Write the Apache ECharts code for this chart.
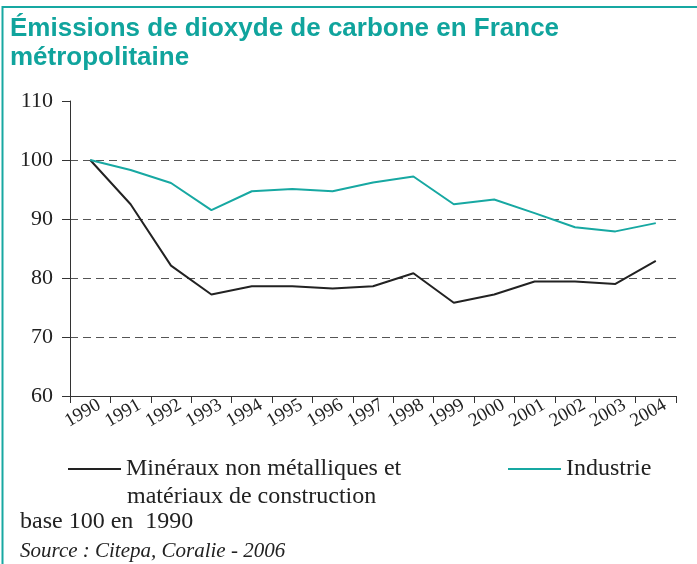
<!DOCTYPE html>
<html><head><meta charset="utf-8">
<script src="https://cdn.jsdelivr.net/npm/echarts@6/dist/echarts.min.js"></script>
<style>html,body{margin:0;padding:0;background:#fff}#c{width:697px;height:564px}</style>
</head><body><div id="c"></div>
<script>
const years = ['1990','1991','1992','1993','1994','1995','1996','1997','1998','1999','2000','2001','2002','2003','2004'];
const mineraux = [100, 92.5, 82.1, 77.2, 78.6, 78.6, 78.2, 78.6, 80.8, 75.8, 77.2, 79.4, 79.4, 79.0, 82.9];
const industrie = [100, 98.3, 96.1, 91.5, 94.7, 95.1, 94.7, 96.2, 97.2, 92.5, 93.3, 91.0, 88.6, 87.9, 89.3];
const yTicks = [60, 70, 80, 90, 100, 110];
const nameMinL1 = 'Minéraux non métalliques et';
const nameMinL2 = 'matériaux de construction';
const nameMin = nameMinL1 + ' ' + nameMinL2;
const nameInd = 'Industrie';
const teal = '#17A8A2';
const serif = 'Liberation Serif';
const chart = echarts.init(document.getElementById('c'));
chart.setOption({
  animation: false,
  title: {
    text: 'Émissions de dioxyde de carbone en France\nmétropolitaine',
    left: 5, top: 9,
    textStyle: { color: '#10A49D', fontFamily: 'Liberation Sans, Arial', fontWeight: 'bold', fontSize: 26, lineHeight: 29 }
  },
  grid: { left: 70, right: 21, top: 101, bottom: 168 },
  legend: [
    { data: [nameMin], left: 63, top: 452, icon: 'rect', itemWidth: 53, itemHeight: 2,
      formatter: () => nameMinL1,
      textStyle: { fontFamily: serif, fontSize: 24, color: '#222' } },
    { data: [nameInd], left: 503, top: 452, icon: 'rect', itemWidth: 53, itemHeight: 2,
      textStyle: { fontFamily: serif, fontSize: 24, color: '#222' } }
  ],
  xAxis: {
    type: 'category', data: years, boundaryGap: true,
    axisLine: { lineStyle: { color: '#333', width: 1 } },
    axisTick: { show: true, length: 7, lineStyle: { color: '#333' } },
    axisLabel: { rotate: 30, align: 'center', padding: [0, 17, 0, 0], fontFamily: serif, fontSize: 19, color: '#222', margin: 13, interval: 0 }
  },
  yAxis: {
    type: 'value', min: yTicks[0], max: yTicks[yTicks.length - 1], interval: 10,
    axisLine: { show: true, lineStyle: { color: '#333', width: 1 } },
    axisTick: { show: true, length: 8, lineStyle: { color: '#333' } },
    axisLabel: { fontFamily: serif, fontSize: 22, color: '#222', margin: 17 },
    splitLine: { show: true, showMaxLine: false, showMinLine: false, lineStyle: { color: '#555', type: [8, 5], width: 1 } }
  },
  series: [
    { name: nameMin, type: 'line', data: mineraux, symbol: 'none', lineStyle: { color: '#222', width: 2 }, itemStyle: { color: '#222' } },
    { name: nameInd, type: 'line', data: industrie, symbol: 'none', lineStyle: { color: teal, width: 2 }, itemStyle: { color: teal } }
  ],
  graphic: [
    { type: 'line', shape: { x1: 2, y1: 7, x2: 697, y2: 7 }, style: { stroke: teal, lineWidth: 2 } },
    { type: 'line', shape: { x1: 2.5, y1: 6, x2: 2.5, y2: 564 }, style: { stroke: teal, lineWidth: 2 } },
    { type: 'text', x: 127, y: 497, style: { text: nameMinL2, font: '24px "Liberation Serif"', fill: '#222', verticalAlign: 'middle' } },
    { type: 'text', x: 20, y: 522, style: { text: 'base 100 en  1990', font: '24px "Liberation Serif"', fill: '#222', verticalAlign: 'middle' } },
    { type: 'text', x: 20, y: 551, style: { text: 'Source : Citepa, Coralie - 2006', font: 'italic 21px "Liberation Serif"', fill: '#222', verticalAlign: 'middle' } }
  ]
});
</script></body></html>
